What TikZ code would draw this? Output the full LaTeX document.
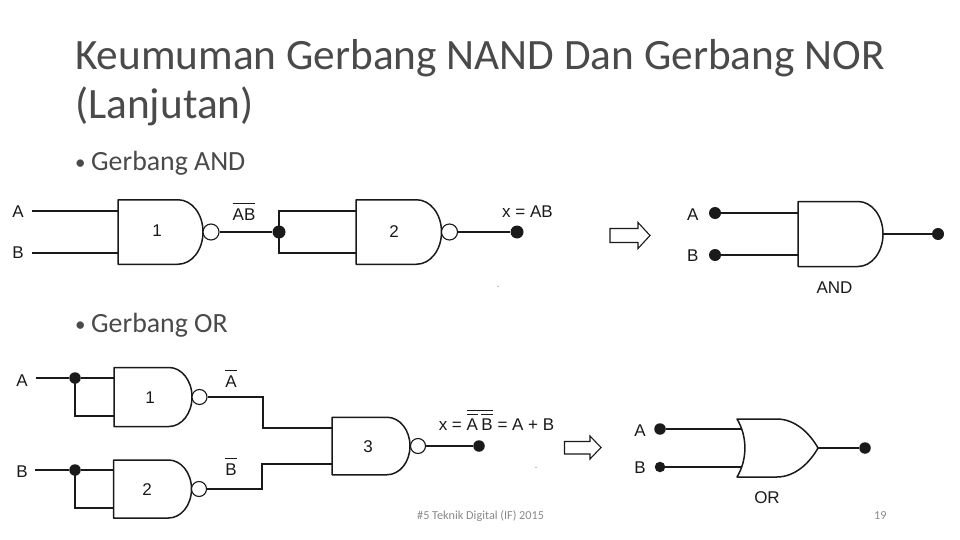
\documentclass[tikz,border=0pt]{standalone}
\usepackage{fontspec}
\setmainfont{Carlito}
\newfontfamily\labelfont{Liberation Sans}
\definecolor{titlegrey}{HTML}{4A4A4A}
\definecolor{footgrey}{HTML}{8A8A8A}
\definecolor{inkc}{HTML}{1A1A1A}
\newcommand\ovl[2]{\vbox{\hrule height 0.9pt\kern#1\hbox{#2}}}
\tikzset{
  wire/.style={draw=inkc,line width=2pt},
  thinwire/.style={draw=inkc,line width=1.6pt},
  gateline/.style={draw=inkc,line width=1.5pt,fill=white,line join=round},
  bubble/.style={circle,draw=inkc,line width=1.1pt,fill=white,minimum size=#1,inner sep=0pt},
  jdot/.style={circle,fill=inkc,draw=none,minimum size=#1,inner sep=0pt},
  lab/.style={font=\labelfont\fontsize{17}{19}\selectfont,text=inkc,inner sep=0pt},
  ovlab/.style={lab,anchor=base},
  titletext/.style={font=\fontsize{43.3}{50}\selectfont,text=titlegrey,anchor=base west,inner sep=0pt},
  bullettext/.style={font=\fontsize{27.8}{32}\selectfont,text=titlegrey,anchor=base west,inner sep=0pt},
  bulletmark/.style={font=\fontsize{21}{24}\selectfont,text=titlegrey,anchor=base west,inner sep=0pt},
  foot/.style={font=\fontsize{12.2}{14}\selectfont,text=footgrey,anchor=base west,inner sep=0pt},
  hollowarrow/.style={draw=inkc,line width=1.1pt,fill=white,line join=miter},
  pics/andg/.style n args={3}{code={
    \path[gateline] (0,-#2/2) -- (#1-#3,-#2/2)
      .. controls (#1-#3*0.45,-#2/2) and (#1,-#2*0.28) .. (#1,0)
      .. controls (#1,#2*0.28) and (#1-#3*0.45,#2/2) .. (#1-#3,#2/2)
      -- (0,#2/2) -- cycle;
    \coordinate (-a) at (0,{-round(#2*0.32)});
    \coordinate (-b) at (0,{round(#2*0.32)});
    \coordinate (-o) at (#1,0);
  }},
  pics/org/.style n args={2}{code={
    \path[gateline] (0,-#2/2) -- (#1*0.49,-#2/2)
      .. controls (#1*0.72,-#2/2) and (#1*0.9,-#2*0.25) .. (#1,0)
      .. controls (#1*0.9,#2*0.25) and (#1*0.72,#2/2) .. (#1*0.49,#2/2)
      -- (0,#2/2)
      .. controls (#1*0.13,#2*0.2) and (#1*0.13,-#2*0.2) .. (0,-#2/2) -- cycle;
    \coordinate (-a) at (#1*0.06,{-round(#2*0.32)});
    \coordinate (-b) at (#1*0.06,{round(#2*0.32)});
    \coordinate (-o) at (#1,0);
  }},
}
\begin{document}
\begin{tikzpicture}[x=1pt,y=-1pt]
\useasboundingbox[fill=white] (0,0) rectangle (960,540);

% Title and bullets
\node[titletext] (t1) at (75,70) {Keumuman Gerbang NAND Dan Gerbang NOR};
\node[titletext] (t2) at (75,119) {(Lanjutan)};
\node[bulletmark] (b1m) at (75,170) {•};
\node[bullettext] (b1) at (91,171) {Gerbang AND};
\node[bulletmark] (b2m) at (75,331) {•};
\node[bullettext] (b2) at (91,332) {Gerbang OR};

% --- AND from NAND ---
\pic (g1) at (118,232) {andg={85}{64.5}{25}};
\node[bubble=16pt] (g1b) at (211,232) {};
\node[lab] at (157,231) (n1) {1};
\pic (g2) at (356,232) {andg={85.5}{64.5}{25}};
\node[bubble=16pt] (g2b) at (449.5,232) {};
\node[lab] at (394,232) (n2) {2};
\node[lab] (la) at (18,212) {A};
\node[lab] (lb) at (18,253) {B};
\coordinate (ina) at (32,211);
\coordinate (inb) at (32,253);
\draw[wire] (ina) -- (ina -| g1-a);
\draw[wire] (inb) -- (inb -| g1-b);
\node[jdot=13pt] (j1) at (279,232) {};
\draw[wire] (g1b) -- (j1);
\draw[wire] (j1.center) |- (g2-a);
\draw[wire] (j1.center) |- (g2-b);
\node[jdot=13pt] (o1) at (517,232) {};
\draw[wire] (g2b) -- (o1);
\node[ovlab] (ab) at (244,220.5) {\ovl{5.2pt}{AB}};
\node[lab] (xab) at (527.5,212) {x = AB};

% Arrow 1
\draw[hollowarrow] (610,228.5) -- (638,228.5) -- (638,222.5) -- (650,235.5) -- (638,248.5) -- (638,242.5) -- (610,242.5) -- cycle;

% --- AND equivalent ---
\pic (g3) at (798,234) {andg={85}{65}{25}};
\node[jdot=12pt] (d3a) at (715,213) {};
\node[jdot=12pt] (d3b) at (715,255) {};
\node[jdot=12pt] (d3o) at (938,234) {};
\draw[wire] (d3a) -- (d3a -| g3-a);
\draw[wire] (d3b) -- (d3b -| g3-b);
\draw[thinwire] (g3-o) -- (d3o);
\node[lab] (l3a) at (692.7,215) {A};
\node[lab] (l3b) at (692.7,255.5) {B};
\node[lab] (l3) at (834.5,288) {AND};

% --- OR from NAND ---
\pic (g4) at (114,397) {andg={78}{59}{23}};
\node[bubble=15pt] (g4b) at (199.5,397) {};
\node[lab] (n4) at (150,398) {1};
\pic (g5) at (113.5,489) {andg={78}{58}{23}};
\node[bubble=15pt] (g5b) at (199,489) {};
\node[lab] (n5) at (147,489.5) {2};
\pic (g6) at (332,446) {andg={78}{57.5}{23}};
\node[bubble=15pt] (g6b) at (418,446) {};
\node[lab] (n6) at (368,446.5) {3};
\node[lab] (l4a) at (22,380.5) {A};
\node[lab] (l4b) at (22,471.5) {B};
\coordinate (i4a) at (36,378);
\coordinate (i4b) at (35,470);
\node[jdot=11.5pt] (j4a) at (75,378) {};
\node[jdot=11.5pt] (j4b) at (75,470) {};
\draw[wire] (i4a) -- (j4a) -- (j4a -| g4-a);
\draw[wire] (i4b) -- (j4b) -- (j4b -| g5-a);
\draw[wire] (j4a.center) |- (g4-b);
\draw[wire] (j4b.center) |- (g5-b);
\coordinate (m1) at (263,397);
\coordinate (m2) at (262,489);
\draw[wire] (g4b) -- (m1) |- (g6-a);
\draw[wire] (g5b) -- (m2) |- (g6-b);
\node[ovlab] (na) at (231,387) {\ovl{4.8pt}{A}};
\node[ovlab] (nb) at (231,475.7) {\ovl{4.8pt}{B}};
\node[jdot=11.5pt] (o6) at (479,446) {};
\draw[wire] (g6b) -- (o6);
\node[ovlab] (xf) at (496.5,430) {x = \ovl{3.2pt}{\ovl{3pt}{A}\kern3.5pt\ovl{3pt}{B}} = A + B};

% Arrow 2
\draw[hollowarrow] (564.5,441.5) -- (590,441.5) -- (590,436) -- (601,447.5) -- (590,459) -- (590,454) -- (564.5,454) -- cycle;

% --- OR equivalent ---
\pic (g7) at (737,448) {org={81}{58}};
\node[jdot=11.5pt] (d7a) at (660,429) {};
\node[jdot=10.5pt] (d7b) at (660,467) {};
\node[jdot=11.5pt] (d7o) at (865,448) {};
\draw[wire] (d7a) -- (d7a -| g7-a);
\draw[wire] (d7b) -- (d7b -| g7-b);
\draw[thinwire] (g7-o) -- (d7o);
\node[lab] (l7a) at (640,430.5) {A};
\node[lab] (l7b) at (640,467.5) {B};
\node[lab] (l7) at (767,498) {OR};

% Specks
\fill[gray] (498,286.5) circle (0.7pt);
\fill[gray] (536,467.5) circle (0.7pt);

% Footer
\node[foot] (f1) at (417,519) {\#5 Teknik Digital (IF) 2015};
\node[foot] (f2) at (874,519) {19};
\end{tikzpicture}
\end{document}
